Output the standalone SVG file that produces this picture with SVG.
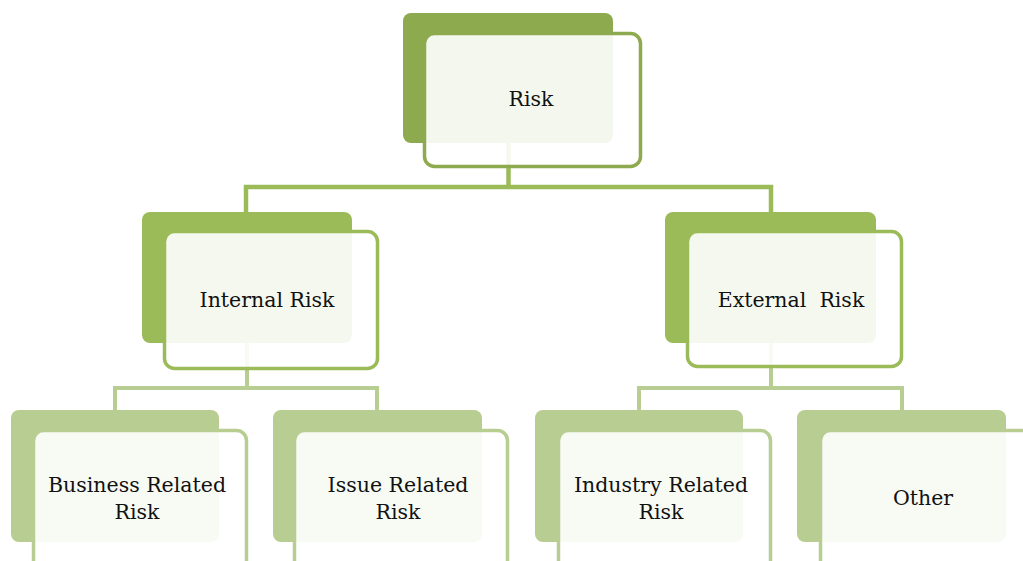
<svg xmlns="http://www.w3.org/2000/svg" width="1023" height="561" viewBox="0 0 1023 561">
  <style>
    .bk0 { fill: #8EAA4F; }
    .bk1 { fill: #9BBB59; }
    .bk2 { fill: #B8CD92; }
    .fr { fill: #FFFFFF; fill-opacity: 0.9; stroke-width: 3.5; }
    .fr0 { stroke: #8EAA4F; }
    .fr1 { stroke: #9BBB59; }
    .fr2 { stroke: #B8CD92; }
    .c1 { fill: none; stroke: #9BBB59; stroke-width: 4.5; }
    .c2 { fill: none; stroke: #B8CD92; stroke-width: 4; }
    .t { font-family: "DejaVu Serif", "Liberation Serif", serif; font-size: 20.5px; fill: #111111; text-anchor: middle; }
  </style>
  <rect width="1023" height="561" fill="#FFFFFF"/>

  <!-- back plates -->
  <g id="backs">
    <rect class="bk0" x="403" y="13" width="210" height="130" rx="8"/>
    <rect class="bk1" x="142" y="212" width="210" height="131" rx="8"/>
    <rect class="bk1" x="665" y="212" width="211" height="131" rx="8"/>
    <rect class="bk2" x="11" y="410" width="208" height="132" rx="8"/>
    <rect class="bk2" x="273" y="410" width="209" height="132" rx="8"/>
    <rect class="bk2" x="535" y="410" width="208" height="132" rx="8"/>
    <rect class="bk2" x="797" y="410" width="209" height="132" rx="8"/>
  </g>

  <g id="connectors">
    <path class="c1" d="M508.5 143 V187 M246 212 V187 H771 V212"/>
    <path class="c2" d="M247 343 V388 M115 410 V388 H377 V410"/>
    <path class="c2" d="M771 343 V388 M639 410 V388 H902 V410"/>
  </g>

  <g id="node-risk">
    <rect class="fr fr0" x="424.5" y="33.5" width="216" height="133" rx="10"/>
    <text class="t" x="531" y="106">Risk</text>
  </g>
  <g id="node-internal">
    <rect class="fr fr1" x="164.5" y="231.5" width="213" height="137" rx="10"/>
    <text class="t" x="267" y="307">Internal Risk</text>
  </g>
  <g id="node-external">
    <rect class="fr fr1" x="687.5" y="231.5" width="214" height="135" rx="10"/>
    <text class="t" x="791" y="307" xml:space="preserve">External  Risk</text>
  </g>
  <g id="node-business">
    <rect class="fr fr2" x="33.5" y="430.5" width="213" height="150" rx="10"/>
    <text class="t" x="137" y="492">Business Related</text>
    <text class="t" x="137" y="519">Risk</text>
  </g>
  <g id="node-issue">
    <rect class="fr fr2" x="294.5" y="430.5" width="213" height="150" rx="10"/>
    <text class="t" x="398" y="492">Issue Related</text>
    <text class="t" x="398" y="519">Risk</text>
  </g>
  <g id="node-industry">
    <rect class="fr fr2" x="558.5" y="430.5" width="212" height="150" rx="10"/>
    <text class="t" x="661" y="492">Industry Related</text>
    <text class="t" x="661" y="519">Risk</text>
  </g>
  <g id="node-other">
    <rect class="fr fr2" x="820.5" y="430.5" width="213" height="150" rx="10"/>
    <text class="t" x="923" y="505">Other</text>
  </g>
</svg>
